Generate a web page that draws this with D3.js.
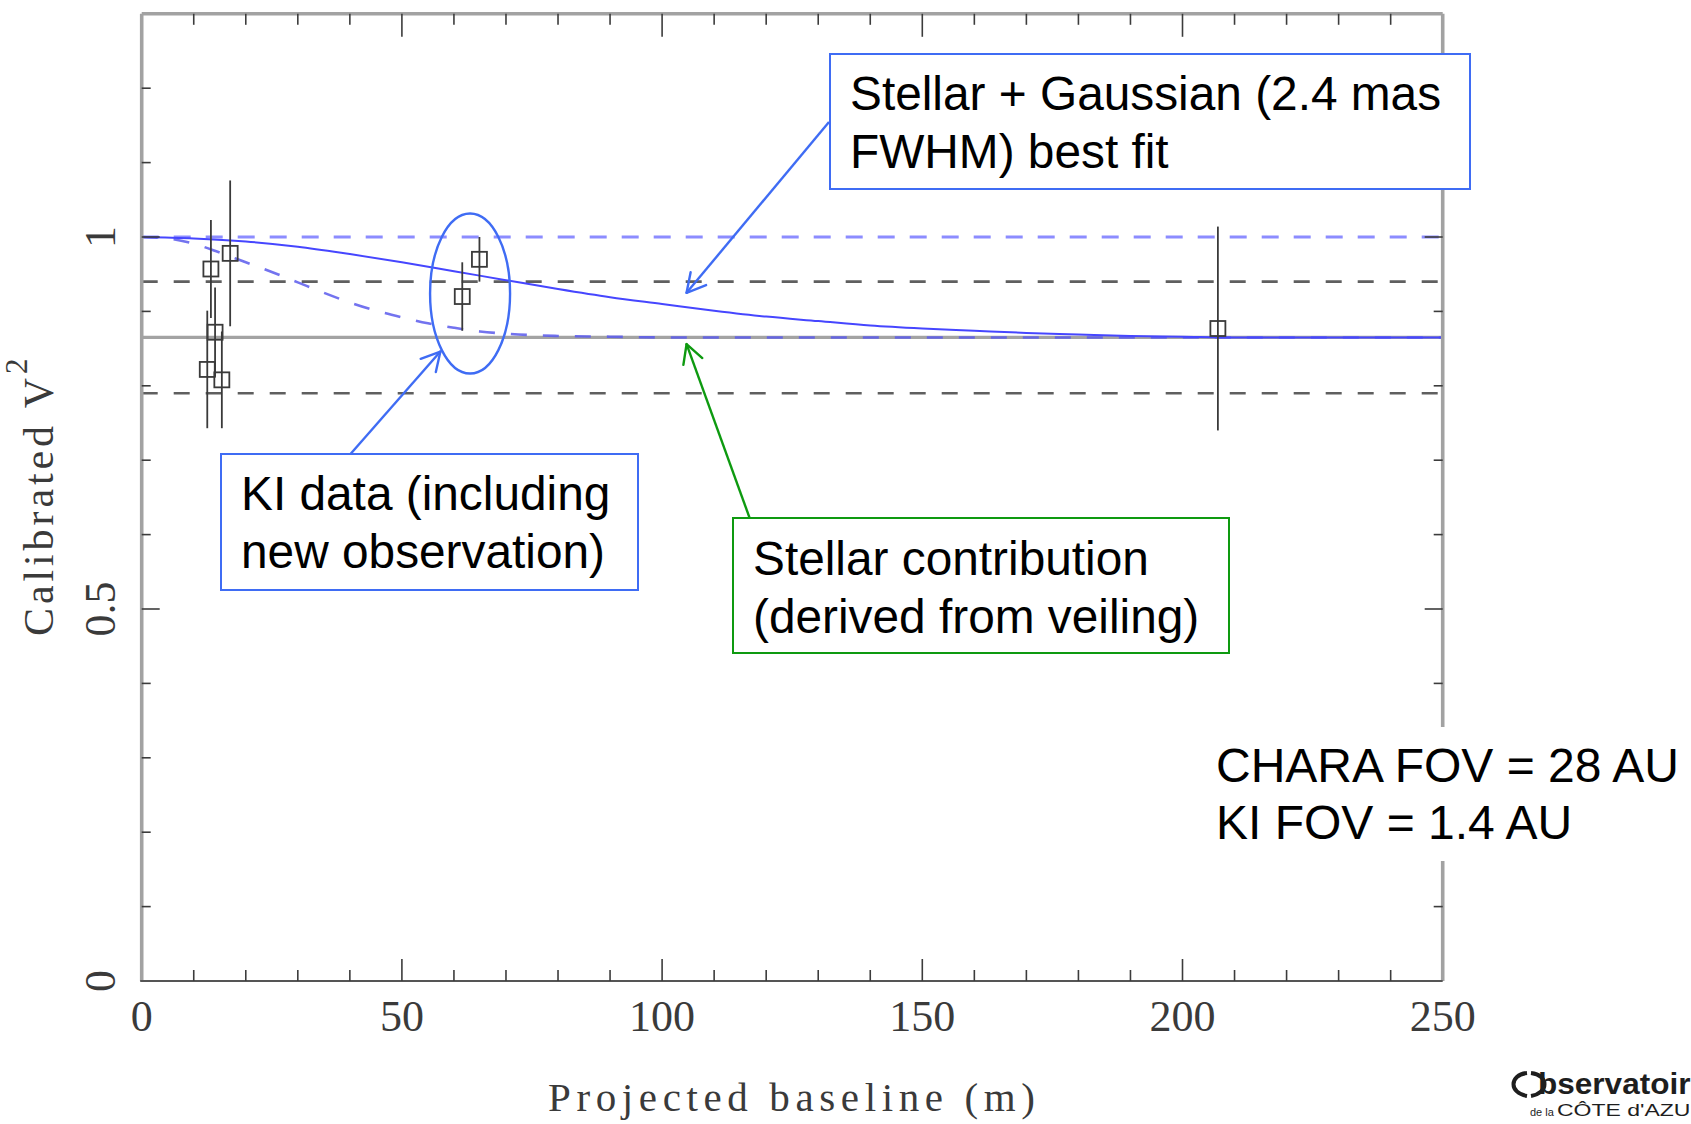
<!DOCTYPE html>
<html>
<head>
<meta charset="utf-8">
<script src="https://cdn.jsdelivr.net/npm/d3@7"></script>
<style>
  html, body { margin: 0; padding: 0; background: #fff; overflow: hidden; }
  svg { display: block; }
</style>
</head>
<body>
<svg id="chart" width="1691" height="1124"></svg>
<script>
// ---- Measured squared visibilities ----
const kiBaseline = [12.6, 13.3, 14.1, 15.4, 17.0, 61.6, 64.9];
const kiV2       = [0.822, 0.957, 0.872, 0.808, 0.978, 0.920, 0.970];
const kiErr      = [0.079, 0.066, 0.060, 0.065, 0.098, 0.046, 0.030];

const charaBaseline = [206.8];
const charaV2       = [0.877];
const charaErr      = [0.137];

// ---- Reference levels ----
const stellarLevel = 0.865;          // stellar contribution from veiling
const stellarBand  = [0.790, 0.940]; // its uncertainty
const pointLevel   = 1.0;            // unresolved source

// ---- Model curves ----
// Stellar + Gaussian best fit
const fitBaseline = [0, 10, 20, 30, 40, 50, 60, 70, 80, 90, 100, 110, 120, 130, 140, 150, 160, 170, 180, 190, 200, 210, 250];
const fitV2       = [1.000, 0.998, 0.994, 0.987, 0.977, 0.966, 0.954, 0.942, 0.930, 0.919, 0.910, 0.901, 0.893, 0.887, 0.881, 0.877, 0.874, 0.871, 0.869, 0.867, 0.866, 0.865, 0.865];
// Wider envelope resolved by the shortest baselines
const envBaseline = [0, 5, 10, 15, 20, 25, 30, 35, 40, 45, 50, 55, 60, 65, 70, 80, 90, 100, 250];
const envV2       = [1.000, 0.998, 0.991, 0.979, 0.966, 0.953, 0.939, 0.925, 0.912, 0.901, 0.892, 0.884, 0.878, 0.873, 0.870, 0.867, 0.866, 0.865, 0.865];

// ---- Axes ----
const xTickValues = [0, 50, 100, 150, 200, 250];
const xTickLabels = ["0", "50", "100", "150", "200", "250"];
const yTickValues = [0, 0.5, 1];
const yTickLabels = ["0", "0.5", "1"];
const xMinorStep = 10;
const yMinorStep = 0.1;

const svg = d3.select("#chart");

const x = d3.scaleLinear().domain([0, 250]).range([141.7, 1442.7]);
const y = d3.scaleLinear().domain([0, 1.3]).range([981, 13.8]);

const X0 = x(0), X1 = x(250), Y0 = y(0), Y1 = y(1.3);

const blue = "#3f6cf4";
const green = "#0e9a10";

// ---- reference lines ----
const ref = svg.append("g");
ref.selectAll("line.band").data(stellarBand).join("line")
  .attr("x1", X0).attr("x2", X1)
  .attr("y1", d => y(d)).attr("y2", d => y(d))
  .attr("stroke", "#5f5f5f").attr("stroke-width", 2.6)
  .attr("stroke-dasharray", "16,16");

ref.append("line")
  .attr("x1", X0).attr("x2", X1)
  .attr("y1", y(stellarLevel)).attr("y2", y(stellarLevel))
  .attr("stroke", "#a3a3a3").attr("stroke-width", 3.2);

ref.append("line")
  .attr("x1", X0).attr("x2", X1)
  .attr("y1", y(pointLevel)).attr("y2", y(pointLevel))
  .attr("stroke", "#8c8cff").attr("stroke-width", 3)
  .attr("stroke-dasharray", "17,15");

// ---- model curves ----
const line = d3.line().x(d => x(d[0])).y(d => y(d[1])).curve(d3.curveMonotoneX);

svg.append("path")
  .datum(envBaseline.map((b, i) => [b, envV2[i]]))
  .attr("d", line)
  .attr("fill", "none")
  .attr("stroke", "#5a5aec").attr("stroke-opacity", 0.85).attr("stroke-width", 2.6)
  .attr("stroke-dasharray", "16,16");

svg.append("path")
  .datum(fitBaseline.map((b, i) => [b, fitV2[i]]))
  .attr("d", line)
  .attr("fill", "none")
  .attr("stroke", "#4646ff").attr("stroke-width", 2);

// ---- frame and ticks ----
const frame = svg.append("g");
frame.append("line").attr("x1", X0).attr("x2", X0).attr("y1", Y1).attr("y2", Y0)
  .attr("stroke", "#a2a2a2").attr("stroke-width", 3.6);
frame.append("line").attr("x1", X1).attr("x2", X1).attr("y1", Y1).attr("y2", Y0)
  .attr("stroke", "#a2a2a2").attr("stroke-width", 3.6);
frame.append("line").attr("x1", X0).attr("x2", X1).attr("y1", Y1).attr("y2", Y1)
  .attr("stroke", "#a2a2a2").attr("stroke-width", 3.6);
frame.append("line").attr("x1", X0 - 1.5).attr("x2", X1).attr("y1", Y0).attr("y2", Y0)
  .attr("stroke", "#555").attr("stroke-width", 2.2);

const xMinor = d3.range(0, 250 + 1e-9, xMinorStep);
const yMinor = d3.range(0, 1.3 + 1e-9, yMinorStep).map(v => +v.toFixed(2));
const isXMajor = v => Math.abs(v % 50) < 1e-6;
const isYMajor = v => Math.abs((v * 10) % 5) < 1e-6;

const ticks = svg.append("g").attr("stroke", "#3c3c3c").attr("stroke-width", 1.6);
// bottom & top
ticks.selectAll("line.xb").data(xMinor.slice(1, -1)).join("line")
  .attr("x1", d => x(d)).attr("x2", d => x(d))
  .attr("y1", Y0).attr("y2", d => Y0 - (isXMajor(d) ? 22 : 11));
ticks.selectAll("line.xt").data(xMinor.slice(1, -1)).join("line")
  .attr("x1", d => x(d)).attr("x2", d => x(d))
  .attr("y1", Y1).attr("y2", d => Y1 + (isXMajor(d) ? 23 : 11));
// left & right
ticks.selectAll("line.yl").data(yMinor.slice(1, -1)).join("line")
  .attr("x1", X0).attr("x2", d => X0 + (isYMajor(d) ? 18 : 9))
  .attr("y1", d => y(d)).attr("y2", d => y(d));
ticks.selectAll("line.yr").data(yMinor.slice(1, -1)).join("line")
  .attr("x1", X1).attr("x2", d => X1 - (isYMajor(d) ? 18 : 9))
  .attr("y1", d => y(d)).attr("y2", d => y(d));

// ---- tick labels ----
const serif = "'Liberation Serif', 'Times New Roman', serif";
svg.append("g").selectAll("text").data(xTickValues).join("text")
  .attr("x", d => x(d)).attr("y", 1031)
  .attr("text-anchor", "middle")
  .attr("font-family", serif).attr("font-size", 44).attr("fill", "#3a3a3a")
  .text((d, i) => xTickLabels[i]);

svg.append("g").selectAll("text").data(yTickValues).join("text")
  .attr("transform", d => `translate(115,${y(d)}) rotate(-90)`)
  .attr("text-anchor", "middle")
  .attr("font-family", serif).attr("font-size", 44).attr("fill", "#3a3a3a")
  .text((d, i) => yTickLabels[i]);

// ---- axis titles ----
svg.append("text")
  .attr("x", 548).attr("y", 1111)
  .attr("textLength", 487).attr("lengthAdjust", "spacing")
  .attr("font-family", serif).attr("font-size", 41).attr("fill", "#3a3a3a")
  .text("Projected baseline (m)");

svg.append("text")
  .attr("transform", "translate(53,636) rotate(-90)")
  .attr("textLength", 258).attr("lengthAdjust", "spacing")
  .attr("font-family", serif).attr("font-size", 42).attr("fill", "#3a3a3a")
  .text("Calibrated V");
svg.append("text")
  .attr("transform", "translate(27,374) rotate(-90)")
  .attr("font-family", serif).attr("font-size", 31).attr("fill", "#3a3a3a")
  .text("2");

// ---- data points with error bars ----
const allPts = kiBaseline.map((b, i) => ({b, v: kiV2[i], e: kiErr[i]}))
  .concat(charaBaseline.map((b, i) => ({b, v: charaV2[i], e: charaErr[i]})));

const pts = svg.append("g");
pts.selectAll("line").data(allPts).join("line")
  .attr("x1", d => x(d.b)).attr("x2", d => x(d.b))
  .attr("y1", d => y(d.v - d.e)).attr("y2", d => y(d.v + d.e))
  .attr("stroke", "#3a3a3a").attr("stroke-width", 1.8);
const S = 15;
pts.selectAll("rect").data(allPts).join("rect")
  .attr("x", d => x(d.b) - S / 2).attr("y", d => y(d.v) - S / 2)
  .attr("width", S).attr("height", S)
  .attr("fill", "none").attr("stroke", "#3a3a3a").attr("stroke-width", 1.8);

// ---- annotations ----
const sans = "'Liberation Sans', Arial, sans-serif";
const ann = svg.append("g");

function arrow(g, x0, y0, x1, y1, color) {
  g.append("line").attr("x1", x0).attr("y1", y0).attr("x2", x1).attr("y2", y1)
    .attr("stroke", color).attr("stroke-width", 2.4);
  const a = Math.atan2(y0 - y1, x0 - x1);
  const L = 21, h = 0.5;
  [a - h, a + h].forEach(t => {
    g.append("line").attr("x1", x1).attr("y1", y1)
      .attr("x2", x1 + L * Math.cos(t)).attr("y2", y1 + L * Math.sin(t))
      .attr("stroke", color).attr("stroke-width", 2.4).attr("stroke-linecap", "round");
  });
}

function box(g, x0, y0, w, h, color, lines, tx, ty, dy) {
  g.append("rect").attr("x", x0).attr("y", y0).attr("width", w).attr("height", h)
    .attr("fill", "#fff").attr("stroke", color).attr("stroke-width", 2);
  lines.forEach((t, i) => {
    g.append("text").attr("x", tx).attr("y", ty + i * dy)
      .attr("font-family", sans).attr("font-size", 47.8).attr("fill", "#000")
      .text(t);
  });
}

// highlight of the new KI observations
ann.append("ellipse")
  .attr("cx", x(63.1)).attr("cy", y(0.924)).attr("rx", 40).attr("ry", 80)
  .attr("fill", "none").attr("stroke", blue).attr("stroke-width", 2.4);

// best-fit label
arrow(ann, 829, 122, x(104.7), y(0.925), blue);
box(ann, 830, 54, 640, 135, blue, ["Stellar + Gaussian (2.4 mas", "FWHM) best fit"], 850, 110, 58);

// KI data label
arrow(ann, 350.5, 454, x(57.4), y(0.846), blue);
box(ann, 221, 454, 417, 136, blue, ["KI data (including", "new observation)"], 241, 510, 58);

// stellar contribution label
arrow(ann, 749.5, 517.6, x(104.7), y(0.856), green);
box(ann, 733, 518, 496, 135, green, ["Stellar contribution", "(derived from veiling)"], 753, 575, 58);

// field of view note
ann.append("rect").attr("x", 1205).attr("y", 727).attr("width", 486).attr("height", 134).attr("fill", "#fff");
["CHARA FOV = 28 AU", "KI FOV = 1.4 AU"].forEach((t, i) => {
  ann.append("text").attr("x", 1216).attr("y", 782 + i * 57)
    .attr("font-family", sans).attr("font-size", 48).attr("fill", "#000").text(t);
});

// ---- observatory mark ----
const logo = svg.append("g").attr("fill", "#1e1e1e");
logo.append("path")
  .attr("d", "M1527,1073 C1509,1075 1509,1093 1527,1096 M1531,1073 C1549,1075 1549,1093 1531,1096")
  .attr("fill", "none").attr("stroke", "#1e1e1e").attr("stroke-width", 4);
logo.append("text").attr("x", 1538).attr("y", 1094)
  .attr("font-family", sans).attr("font-weight", "bold").attr("font-size", 29)
  .attr("textLength", 170).attr("lengthAdjust", "spacingAndGlyphs")
  .text("bservatoire");
logo.append("text").attr("x", 1530).attr("y", 1116)
  .attr("font-family", sans).attr("font-size", 11).text("de la");
logo.append("text").attr("x", 1557).attr("y", 1116)
  .attr("font-family", sans).attr("font-size", 16)
  .attr("textLength", 150).attr("lengthAdjust", "spacingAndGlyphs")
  .text("CÔTE d'AZUR");
</script>
</body>
</html>
